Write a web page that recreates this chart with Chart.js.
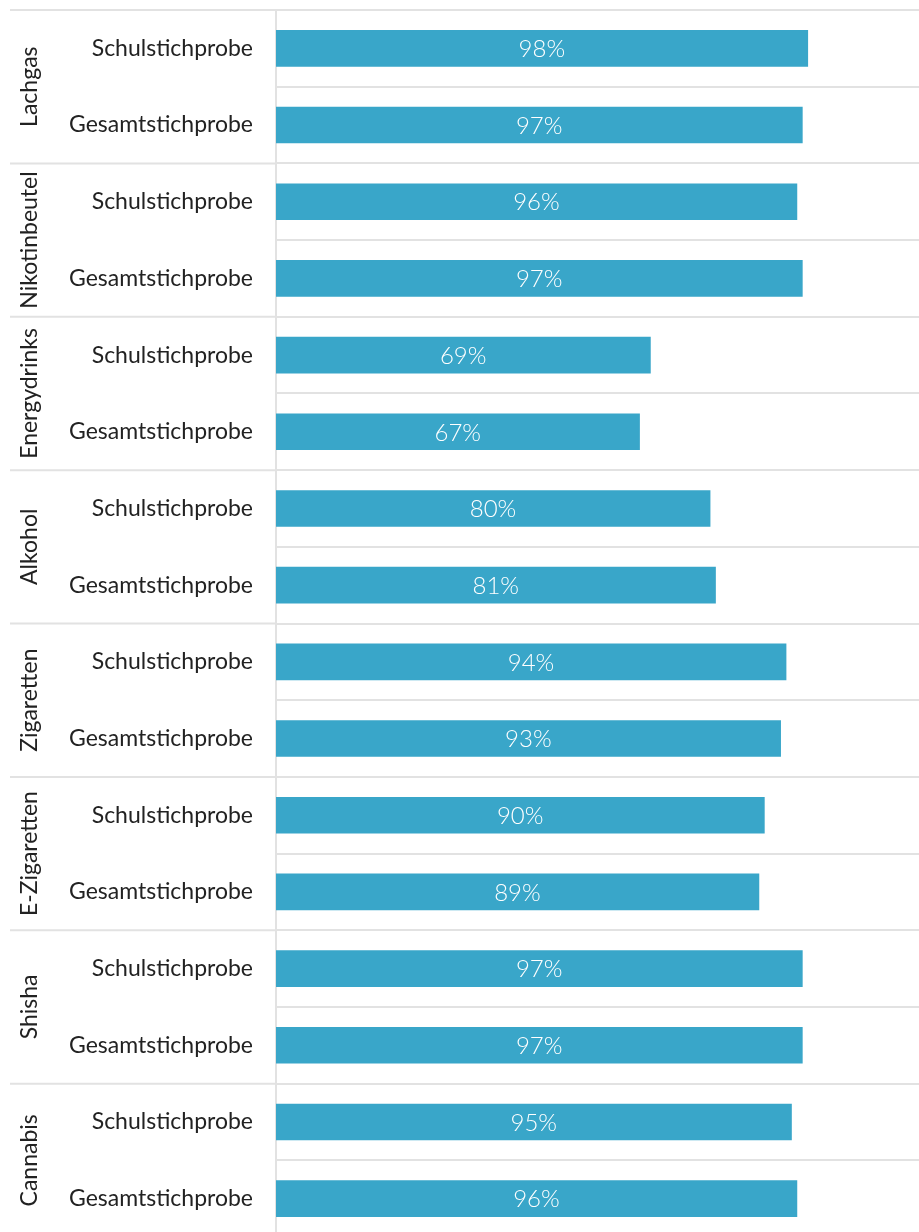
<!DOCTYPE html>
<html>
<head>
<meta charset="utf-8">
<script src="https://cdn.jsdelivr.net/npm/chart.js@4"></script>
<style>
  html, body { margin: 0; padding: 0; background: #fff; overflow: hidden; }
  canvas { display: block; }
</style>
</head>
<body>
<canvas id="chart" width="919" height="1240"></canvas>
<script>
const groups = ['Lachgas', 'Nikotinbeutel', 'Energydrinks', 'Alkohol', 'Zigaretten', 'E-Zigaretten', 'Shisha', 'Cannabis'];
const samples = ['Schulstichprobe', 'Gesamtstichprobe'];
const schul = [98, 96, 69, 80, 94, 90, 97, 95];
const gesamt = [97, 97, 67, 81, 93, 89, 97, 96];

const FONT = 'Lato, "Open Sans", sans-serif';
const GRID = '#e2e2e2';

// one row per sample, two rows per group
const labels = [];
const values = [];
groups.forEach((g, i) => {
  labels.push(samples[0]); values.push(schul[i]);
  labels.push(samples[1]); values.push(gesamt[i]);
});

const groupLabels = {
  id: 'groupLabels',
  afterDraw(chart) {
    const { ctx, chartArea, scales: { y } } = chart;
    const row = y.getPixelForValue(1) - y.getPixelForValue(0);
    ctx.save();
    // group separators reach into the label column
    ctx.strokeStyle = GRID;
    ctx.lineWidth = 2;
    for (let g = 0; g <= groups.length; g++) {
      const py = y.getPixelForValue(g * 2) - row / 2;
      ctx.beginPath();
      ctx.moveTo(10, py);
      ctx.lineTo(chartArea.left, py);
      ctx.stroke();
    }
    ctx.fillStyle = '#222';
    ctx.font = '23px ' + FONT;
    ctx.textAlign = 'center';
    ctx.textBaseline = 'middle';
    groups.forEach((g, i) => {
      const cy = (y.getPixelForValue(i * 2) + y.getPixelForValue(i * 2 + 1)) / 2;
      ctx.save();
      ctx.translate(30, cy);
      ctx.rotate(-Math.PI / 2);
      ctx.fillText(g, 0, 0);
      ctx.restore();
    });
    // value labels inside the bars
    ctx.fillStyle = '#fff';
    ctx.font = '300 24px ' + FONT;
    chart.getDatasetMeta(0).data.forEach((bar, i) => {
      const { x, y: by, base } = bar.getProps(['x', 'y', 'base'], true);
      ctx.fillText(values[i] + '%', (x + base) / 2, by + 1);
    });
    ctx.restore();
  }
};

new Chart(document.getElementById('chart'), {
  type: 'bar',
  data: {
    labels: labels,
    datasets: [{
      data: values,
      backgroundColor: '#39a6c9',
      barThickness: 36
    }]
  },
  options: {
    indexAxis: 'y',
    responsive: false,
    animation: false,
    layout: { padding: { top: 10, bottom: 3, left: 0, right: 0 } },
    plugins: { legend: { display: false }, tooltip: { enabled: false } },
    scales: {
      x: { display: false, min: 0, max: 118.5 },
      y: {
        afterFit: s => { s.width = 276; s.paddingTop = 0; s.paddingBottom = 0; },
        grid: { offset: true, color: GRID, lineWidth: 2, drawTicks: false },
        border: { display: true, color: GRID, width: 2 },
        ticks: { color: '#222', font: { family: FONT, size: 23 }, padding: 23 }
      }
    }
  },
  plugins: [groupLabels]
});
</script>
</body>
</html>
